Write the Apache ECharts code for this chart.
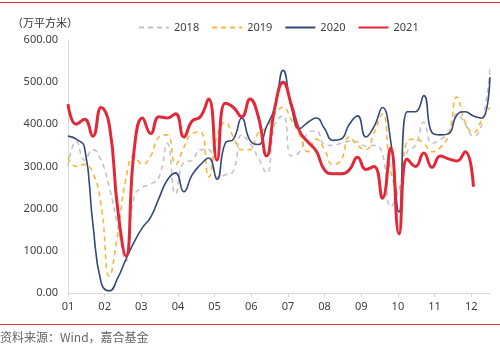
<!DOCTYPE html>
<html>
<head>
<meta charset="utf-8">
<script src="https://cdn.jsdelivr.net/npm/echarts@6/dist/echarts.min.js"></script>
<style>
  html, body { margin: 0; padding: 0; background: #ffffff; }
  #chart { width: 500px; height: 348px; }
</style>
</head>
<body>
<div id="chart"></div>
<script>
// Month tick labels
var monthLabels = ['01','02','03','04','05','06','07','08','09','10','11','12'];
// Weekly values (万平方米), index = week of year
var s2018 = [300,360,315,340,315,250,160,75,230,250,258,275,355,235,310,315,340,340,275,280,290,375,355,320,285,400,420,325,335,380,385,352,350,355,360,358,348,350,330,205,245,335,350,405,355,365,380,425,400,372,400,535];
var s2019 = [322,300,305,285,210,40,140,270,325,305,325,370,375,305,345,378,382,275,370,405,370,340,340,380,392,425,440,410,375,335,365,340,305,315,370,350,340,380,425,290,235,360,365,355,335,345,375,465,405,380,410,440];
var s2020 = [372,365,345,165,25,5,35,80,121,155,180,225,268,285,240,280,304,320,270,355,365,415,362,352,395,440,528,440,390,405,415,390,362,365,400,420,370,395,440,360,192,430,430,468,380,375,378,422,430,420,415,512];
var s2021 = [448,400,412,372,440,398,200,88,340,415,378,418,415,425,370,408,418,460,315,450,440,418,460,418,325,440,500,446,383,358,337,292,283,283,292,322,293,300,225,344,140,318,300,332,298,325,318,313,335,252];
var seriesNames = ['2018','2019','2020','2021'];

function toPairs(arr) { return arr.map(function (v, i) { return [i, v]; }); }

var weeksPerMonth = 4.43;
var monthPos = monthLabels.map(function (_, i) { return +(i * weeksPerMonth).toFixed(2); });

var chart = echarts.init(document.getElementById('chart'), null, { renderer: 'canvas' });
chart.setOption({
  animation: false,
  backgroundColor: '#ffffff',
  graphic: [
    { type: 'rect', shape: { x: 0, y: 2, width: 500, height: 1 }, style: { fill: '#d8343c' } },
    { type: 'rect', shape: { x: 0, y: 324, width: 500, height: 1 }, style: { fill: '#d8343c' } },
    { type: 'text', left: 12, top: 17, style: { text: '（万平方米）', font: '11px "Noto Sans CJK SC"', fill: '#333333' } },
    { type: 'text', left: 0, top: 331, style: { text: '资料来源：Wind，嘉合基金', font: '12px "Noto Sans CJK SC"', fill: '#666666' } }
  ],
  legend: {
    left: 133, top: 17,
    itemWidth: 30, itemHeight: 10, itemGap: 12,
    itemStyle: { opacity: 0, borderWidth: 0 },
    textStyle: { fontSize: 11, color: '#404040', fontFamily: 'Noto Sans' },
    data: seriesNames
  },
  grid: { left: 68, right: 10, top: 40, bottom: 55, containLabel: false },
  xAxis: {
    type: 'value', min: 0, max: 51,
    axisLine: { show: true, lineStyle: { color: '#d9d9d9', width: 1 } },
    axisTick: { show: true, length: 4, lineStyle: { color: '#d9d9d9' }, customValues: monthPos },
    axisLabel: {
      color: '#404040', fontSize: 11, margin: 8, fontFamily: 'Noto Sans',
      customValues: monthPos,
      formatter: function (v) { var i = Math.round(v / weeksPerMonth); return monthLabels[i] || ''; }
    },
    splitLine: { show: false }
  },
  yAxis: {
    type: 'value', min: 0, max: 600, interval: 100,
    axisLine: { show: true, lineStyle: { color: '#d9d9d9', width: 1 } },
    axisTick: { show: false },
    axisLabel: { color: '#404040', fontSize: 11, margin: 10, fontFamily: 'Noto Sans',
      formatter: function (v) { return v.toFixed(2); } },
    splitLine: { show: false }
  },
  series: [
    { name: '2018', type: 'line', smooth: true, showSymbol: false, symbol: 'none', data: toPairs(s2018),
      lineStyle: { color: '#c3c3c3', width: 1.6, type: [5, 4] }, itemStyle: { color: '#c3c3c3' }, z: 1 },
    { name: '2019', type: 'line', smooth: true, showSymbol: false, symbol: 'none', data: toPairs(s2019),
      lineStyle: { color: '#f5b83d', width: 1.6, type: [5, 4] }, itemStyle: { color: '#f5b83d' }, z: 2 },
    { name: '2020', type: 'line', smooth: true, showSymbol: false, symbol: 'none', data: toPairs(s2020),
      lineStyle: { color: '#34497a', width: 1.6 }, itemStyle: { color: '#34497a' }, z: 3 },
    { name: '2021', type: 'line', smooth: true, showSymbol: false, symbol: 'none', data: toPairs(s2021),
      lineStyle: { color: '#e2293a', width: 3 }, itemStyle: { color: '#e2293a' }, z: 4 }
  ]
});
</script>
</body>
</html>
